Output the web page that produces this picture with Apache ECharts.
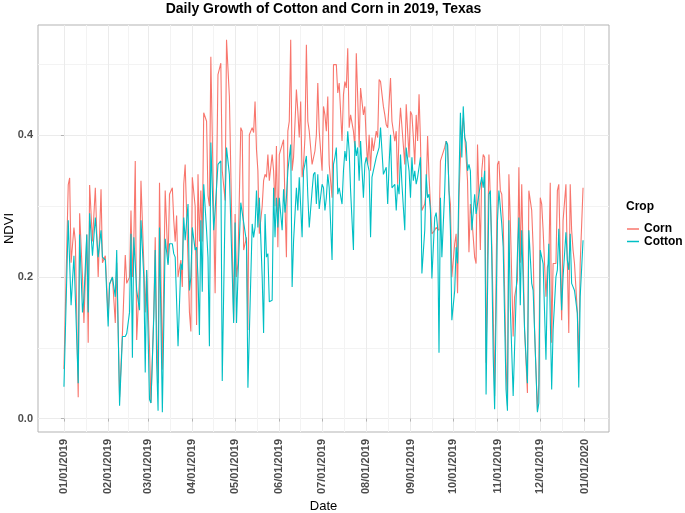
<!DOCTYPE html>
<html><head><meta charset="utf-8">
<script src="https://cdn.jsdelivr.net/npm/echarts@6/dist/echarts.min.js"></script>
<style>html,body{margin:0;padding:0;background:#fff}#c{width:685px;height:513px}</style>
</head><body><div id="c"></div>
<script>
// day of year (0 = 01/01/2019)
const days = [
0,3,4,5,7,8,10,11,13,14,
16,17,18,20,22,24,26,27,29,31,
32,34,36,37,39,41,43,44,46,47,
48,49,50,51,53,54,56,57,58,60,
61,63,64,65,66,67,69,71,73,74,
76,77,78,79,80,82,83,84,85,87,
88,89,90,92,93,94,95,96,97,98,
100,101,102,103,105,106,108,110,111,113,
114,116,117,119,120,121,122,124,125,126,
128,129,130,132,133,134,135,136,137,139,
140,141,142,143,144,146,147,148,149,150,
151,153,154,155,156,157,158,159,160,161,
163,164,165,166,167,168,169,170,171,172,
174,175,176,177,178,179,181,182,183,184,
185,186,188,189,190,191,192,193,195,196,
197,198,199,200,201,203,204,205,206,207,
208,210,211,212,213,214,215,216,217,219,
220,221,222,224,225,226,227,228,229,230,
232,233,234,235,236,237,239,240,242,243,
244,245,246,247,248,249,250,251,253,254,
255,256,257,258,260,261,262,263,264,265,
267,268,269,270,271,272,274,275,276,277,
278,279,280,281,282,283,284,285,286,287,
288,289,290,292,293,294,295,296,298,299,
300,301,302,304,305,306,307,308,310,311,
312,313,315,316,318,319,320,321,322,323,
325,326,328,329,330,332,333,334,335,336,
338,339,340,341,342,343,345,346,347,349,
350,352,353,354,355,356,357,358,360,361,
362,364];
const corn = [
0.07,0.33,0.34,0.22,0.27,0.25,0.03,0.29,0.2,0.135,
0.26,0.107,0.33,0.25,0.326,0.2,0.324,0.22,0.23,0.144,
0.19,0.2,0.135,0.22,0.03,0.12,0.231,0.191,0.2,0.294,
0.2,0.25,0.364,0.111,0.2,0.336,0.219,0.15,0.21,0.1,
0.022,0.15,0.256,0.12,0.05,0.333,0.069,0.322,0.219,0.317,
0.326,0.28,0.25,0.287,0.2,0.224,0.186,0.331,0.359,0.224,
0.15,0.123,0.341,0.3,0.132,0.345,0.25,0.322,0.25,0.432,
0.42,0.315,0.3,0.511,0.289,0.177,0.486,0.502,0.35,0.308,
0.535,0.455,0.453,0.139,0.289,0.2,0.219,0.411,0.406,0.238,
0.256,0.125,0.401,0.411,0.404,0.448,0.38,0.35,0.261,0.3,
0.336,0.345,0.341,0.373,0.336,0.373,0.35,0.3,0.385,0.242,
0.373,0.387,0.394,0.303,0.228,0.406,0.42,0.535,0.35,0.369,
0.465,0.434,0.397,0.448,0.341,0.359,0.397,0.528,0.42,0.406,
0.359,0.359,0.378,0.401,0.474,0.406,0.35,0.441,0.429,0.406,
0.455,0.359,0.312,0.5,0.5,0.5,0.46,0.474,0.392,0.458,
0.476,0.467,0.523,0.411,0.429,0.406,0.383,0.516,0.453,0.383,
0.467,0.429,0.441,0.392,0.359,0.401,0.35,0.397,0.378,0.406,
0.397,0.479,0.476,0.441,0.429,0.415,0.411,0.446,0.481,0.42,
0.392,0.406,0.331,0.406,0.439,0.441,0.359,0.444,0.369,0.434,
0.429,0.397,0.359,0.429,0.392,0.458,0.392,0.294,0.303,0.322,
0.399,0.341,0.303,0.261,0.266,0.27,0.27,0.266,0.364,0.364,
0.383,0.392,0.387,0.322,0.303,0.2,0.247,0.261,0.177,0.312,
0.369,0.406,0.425,0.4,0.369,0.336,0.235,0.303,0.284,0.256,
0.228,0.219,0.387,0.238,0.35,0.373,0.369,0.079,0.373,0.373,
0.247,0.15,0.032,0.359,0.364,0.322,0.317,0.28,0.079,0.018,
0.345,0.28,0.116,0.172,0.196,0.355,0.22,0.331,0.329,0.125,
0.036,0.322,0.294,0.242,0.125,0.011,0.05,0.312,0.303,0.266,
0.172,0.214,0.219,0.333,0.107,0.219,0.219,0.322,0.331,0.139,
0.28,0.331,0.219,0.121,0.331,0.266,0.238,0.219,0.15,0.079,
0.219,0.326];
const cotton = [
0.045,0.28,0.28,0.16,0.23,0.23,0.05,0.26,0.15,0.17,
0.26,0.15,0.29,0.23,0.284,0.228,0.266,0.228,0.224,0.13,
0.19,0.2,0.172,0.238,0.018,0.116,0.116,0.12,0.15,0.261,
0.086,0.256,0.256,0.181,0.153,0.28,0.2,0.065,0.21,0.027,
0.022,0.144,0.238,0.079,0.011,0.27,0.009,0.254,0.217,0.247,
0.247,0.233,0.228,0.23,0.102,0.219,0.21,0.284,0.252,0.303,
0.181,0.2,0.27,0.238,0.242,0.2,0.118,0.28,0.179,0.331,
0.266,0.228,0.102,0.39,0.266,0.294,0.359,0.364,0.053,0.3,
0.383,0.345,0.343,0.135,0.277,0.135,0.2,0.305,0.291,0.291,
0.25,0.0435,0.046,0.275,0.256,0.27,0.322,0.27,0.312,0.2,
0.121,0.289,0.228,0.233,0.165,0.167,0.326,0.256,0.312,0.27,
0.312,0.266,0.324,0.291,0.312,0.35,0.35,0.387,0.186,0.25,
0.326,0.294,0.341,0.3,0.256,0.35,0.36,0.371,0.315,0.27,
0.322,0.345,0.348,0.303,0.345,0.296,0.331,0.326,0.294,0.312,
0.345,0.326,0.224,0.359,0.369,0.383,0.317,0.326,0.303,0.35,
0.378,0.364,0.406,0.378,0.322,0.238,0.392,0.371,0.383,0.336,
0.392,0.312,0.359,0.369,0.359,0.35,0.256,0.341,0.341,0.369,
0.371,0.383,0.411,0.345,0.345,0.355,0.303,0.359,0.401,0.326,
0.331,0.294,0.331,0.317,0.373,0.331,0.266,0.383,0.35,0.312,
0.369,0.336,0.35,0.331,0.341,0.355,0.369,0.205,0.266,0.345,
0.312,0.317,0.294,0.198,0.284,0.291,0.27,0.093,0.312,0.228,
0.322,0.392,0.387,0.322,0.266,0.139,0.181,0.242,0.219,0.336,
0.432,0.369,0.441,0.397,0.39,0.35,0.359,0.35,0.266,0.266,
0.317,0.289,0.303,0.331,0.341,0.326,0.35,0.034,0.317,0.322,
0.228,0.088,0.013,0.28,0.322,0.298,0.275,0.242,0.041,0.011,
0.28,0.158,0.032,0.1,0.233,0.284,0.16,0.266,0.266,0.125,
0.05,0.266,0.191,0.181,0.125,0.009,0.022,0.238,0.238,0.219,
0.083,0.191,0.247,0.247,0.041,0.125,0.2,0.21,0.268,0.153,
0.2,0.263,0.224,0.21,0.261,0.191,0.186,0.181,0.149,0.044,
0.172,0.252];
const monthTickDays = [0,31,59,90,120,151,181,212,243,273,304,334,365];
const monthTickLabels = ['01/01/2019','02/01/2019','03/01/2019','04/01/2019','05/01/2019','06/01/2019','07/01/2019','08/01/2019','09/01/2019','10/01/2019','11/01/2019','12/01/2019','01/01/2020'];
const minorTickDays = [15.5,45,74.5,105,135.5,166,196.5,227.5,258,288.5,319,349.5];
const yTicks = [0,0.2,0.4];
const yTickLabels = ['0.0','0.2','0.4'];
const yMinorTicks = [0.1,0.3,0.5];

const FONT = "'Liberation Sans', Arial, sans-serif";
const xMin = -18.2, xMax = 382.2, yMin = -0.019, yMax = 0.556;

const chart = echarts.init(document.getElementById('c'), null, {renderer:'canvas'});
chart.setOption({
  animation:false,
  backgroundColor:'#ffffff',
  textStyle:{fontFamily:FONT},
  title:[
    {text:'Daily Growth of Cotton and Corn in 2019, Texas', left:323.5, top:2, textAlign:'center', padding:0,
     textStyle:{fontFamily:FONT, fontSize:14, fontWeight:'bold', color:'#000'}},
    {text:'Crop', left:626, top:201, padding:0,
     textStyle:{fontFamily:FONT, fontSize:12, fontWeight:'bold', color:'#000'}}
  ],
  legend:{
    data:['Corn','Cotton'], orient:'vertical', left:627, top:223, padding:0,
    icon:'rect', itemWidth:12, itemHeight:1.5, itemGap:0.5,
    textStyle:{fontFamily:FONT, fontSize:12, fontWeight:'bold', color:'#000', lineHeight:12}
  },
  grid:{left:38, right:76, top:25, bottom:81, show:true, borderColor:'#B3B3B3', borderWidth:1,
        backgroundColor:'#fff', containLabel:false, outerBoundsMode:'none'},
  xAxis:[
    {type:'value', min:xMin, max:xMax, position:'bottom',
     axisLine:{show:false},
     axisTick:{show:true, length:3, lineStyle:{color:'#B3B3B3'}, customValues:monthTickDays},
     axisLabel:{customValues:monthTickDays, rotate:90, margin:7, padding:[6,0,0,0],
       fontFamily:FONT, fontSize:11, fontWeight:'bold', color:'#4D4D4D',
       formatter:(v)=>{const i=monthTickDays.indexOf(Math.round(v)); return i>=0?monthTickLabels[i]:'';}},
     splitLine:{show:true, lineStyle:{color:'#EBEBEB', width:1}},
     name:'Date', nameLocation:'middle', nameGap:68, nameMoveOverlap:false,
     nameTextStyle:{fontFamily:FONT, fontSize:13, color:'#000'}},
    {type:'value', min:xMin, max:xMax, position:'top',
     axisLine:{show:false}, axisTick:{show:false, customValues:minorTickDays},
     axisLabel:{show:false, customValues:minorTickDays},
     splitLine:{show:true, lineStyle:{color:'#F3F3F3', width:1}}}
  ],
  yAxis:[
    {type:'value', min:yMin, max:yMax, position:'left',
     axisLine:{show:false},
     axisTick:{show:true, length:3, lineStyle:{color:'#B3B3B3'}, customValues:yTicks},
     axisLabel:{customValues:yTicks, margin:5, fontFamily:FONT, fontSize:11, fontWeight:'bold', color:'#4D4D4D',
       formatter:(v)=>{const i=yTicks.findIndex(t=>Math.abs(t-v)<1e-9); return i>=0?yTickLabels[i]:'';}},
     splitLine:{show:true, lineStyle:{color:'#EBEBEB', width:1}},
     name:'NDVI', nameLocation:'middle', nameGap:22, nameMoveOverlap:false,
     nameTextStyle:{fontFamily:FONT, fontSize:13, color:'#000'}},
    {type:'value', min:yMin, max:yMax, position:'right',
     axisLine:{show:false}, axisTick:{show:false, customValues:yMinorTicks},
     axisLabel:{show:false, customValues:yMinorTicks},
     splitLine:{show:true, lineStyle:{color:'#F3F3F3', width:1}}}
  ],
  series:[
    {name:'Corn', type:'line', xAxisIndex:0, yAxisIndex:0, showSymbol:false, symbol:'none',
     color:'#F8766D', lineStyle:{width:1.1, color:'#F8766D'},
     data:days.map((d,i)=>[d,corn[i]])},
    {name:'Cotton', type:'line', xAxisIndex:0, yAxisIndex:0, showSymbol:false, symbol:'none',
     color:'#00BFC4', lineStyle:{width:1.1, color:'#00BFC4'},
     data:days.map((d,i)=>[d,cotton[i]])}
  ]
});
</script></body></html>
